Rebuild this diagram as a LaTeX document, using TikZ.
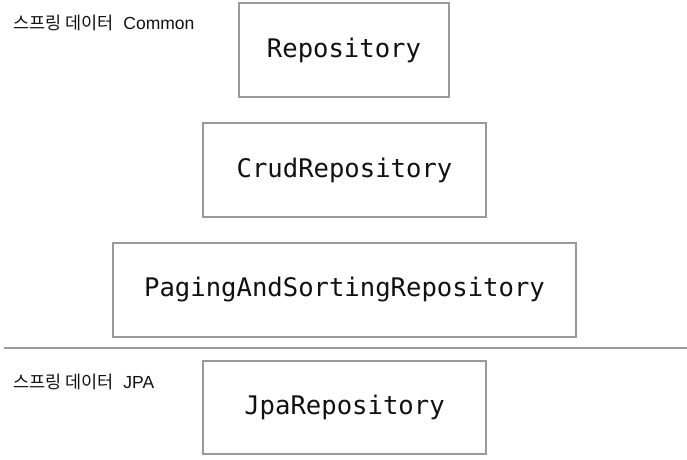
\documentclass[tikz,border=0pt]{standalone}
\usepackage{fontspec}
\setmainfont{Liberation Sans}
\newfontfamily\repomono{DejaVu Sans Mono}
\newfontfamily\cjk{Noto Sans CJK KR}
\usepackage{xcolor}
\usetikzlibrary{positioning}
\definecolor{frame}{HTML}{9A9A9A}
\definecolor{ink}{HTML}{111111}

\begin{document}
\begin{tikzpicture}[x=1pt,y=-1pt,
  repo/.style={rectangle,draw=frame,line width=1.4pt,fill=white,text=ink,
    minimum height=94pt,inner sep=0pt,font=\repomono\fontsize{25.6}{28}\selectfont},
  tag/.style={anchor=base west,inner sep=0pt,text=ink,font=\fontsize{17.5}{20}\selectfont}
]
\useasboundingbox (0,0) rectangle (687,459);
% ---- 스프링 데이터 Common
\node[tag] (common) at (13,29) {{\cjk 스프링 데이터}\ \ Common};
\node[repo,minimum width=210pt] (repo) at (344,50) {Repository};
\node[repo,minimum width=283pt] (crud) at (344.5,170) {CrudRepository};
\node[repo,minimum width=463pt] (paging) at (344.5,290) {PagingAndSortingRepository};
% ---- separator
\coordinate (sepL) at (4,348);
\coordinate (sepR) at (687,348);
\draw[frame,line width=1.4pt] (sepL) -- (sepR);
% ---- 스프링 데이터 JPA
\node[tag] (jpa) at (13,388) {{\cjk 스프링 데이터}\ \ JPA};
\node[repo,minimum width=283pt,minimum height=93pt] (jparepo) at (344.5,407.5) {JpaRepository};
\end{tikzpicture}
\end{document}
